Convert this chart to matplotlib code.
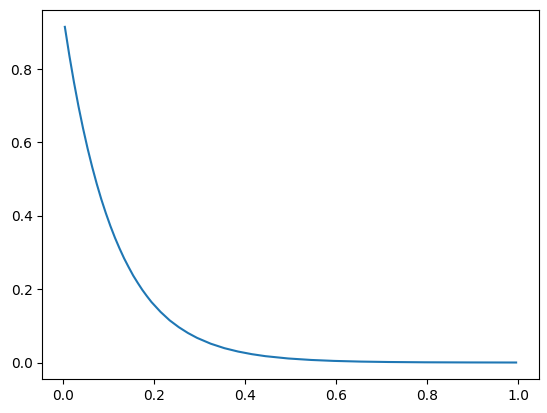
import matplotlib
matplotlib.use("Agg")
import matplotlib.pyplot as plt

# values
x = [0.005, 0.015, 0.025, 0.035, 0.045, 0.055, 0.065, 0.075, 0.085, 0.095,
     0.105, 0.115, 0.125, 0.135, 0.145, 0.155, 0.165, 0.175, 0.185, 0.195,
     0.215, 0.235, 0.255, 0.275, 0.295, 0.325, 0.355, 0.385, 0.415, 0.445,
     0.495, 0.545, 0.595, 0.655, 0.715, 0.795, 0.895, 0.995]
y = [0.915, 0.836, 0.764, 0.698, 0.638, 0.583, 0.533, 0.487, 0.445, 0.407,
     0.372, 0.340, 0.311, 0.284, 0.260, 0.237, 0.217, 0.198, 0.181, 0.165,
     0.138, 0.115, 0.0964, 0.0806, 0.0673, 0.0514, 0.0392, 0.0300, 0.0229, 0.0174,
     0.0111, 0.0071, 0.0045, 0.0026, 0.0015, 0.0007, 0.0003, 0.0001]

fig = plt.figure(figsize=(5.47, 4.13), dpi=100)
ax = fig.add_axes([0.0773, 0.0816, 0.9075, 0.894])
ax.plot(x, y)
ax.set_yticks([0.0, 0.2, 0.4, 0.6, 0.8])

fig.savefig("out.png", dpi=100)
